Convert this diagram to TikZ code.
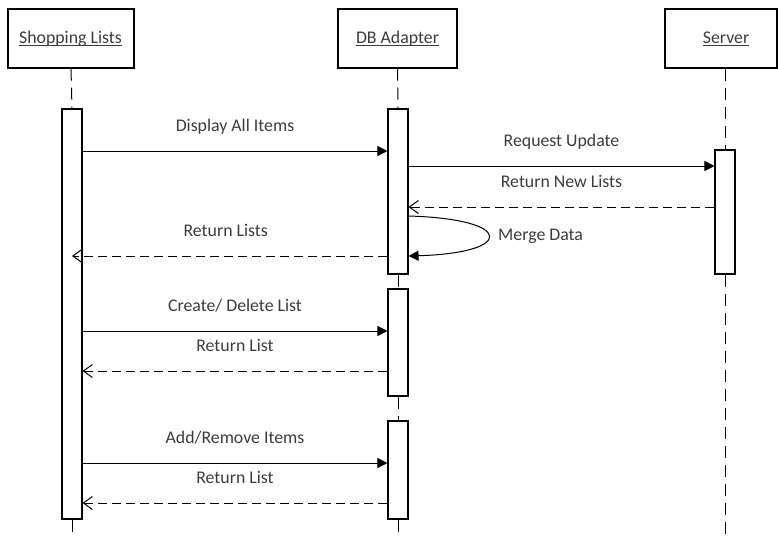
\documentclass[tikz,border=0pt]{standalone}
\usepackage{fontspec}
\setmainfont{Carlito}
\usetikzlibrary{arrows.meta,calc}
\definecolor{labelgray}{RGB}{60,60,60}
% underline drawn just under the baseline, crossing the descenders
\newcommand{\ulbase}[1]{\setbox0\hbox{#1}\rlap{\rule[-2.2pt]{\wd0}{0.9pt}}\box0}
\tikzset{
  objbox/.style={draw=black, line width=1.2pt, minimum width=#1, minimum height=59pt, inner sep=0pt},
  lbl/.style={font=\fontsize{17.8}{20}\selectfont, text=labelgray, inner sep=0pt, anchor=base},
  bar/.style={draw=black, line width=1.1pt, fill=white, minimum width=20pt, inner sep=0pt},
  lifeline/.style={draw=black, line width=1pt, dash pattern=on 12pt off 7pt},
  call/.style={draw=black, line width=1pt, -{Triangle[length=10pt,width=10pt]}},
  reply/.style={draw=black, line width=1pt, dash pattern=on 9pt off 5pt, -{Straight Barb[length=9pt,width=13pt]}},
  msg/.style={lbl, yshift=19.5pt},
}
\begin{document}
\begin{tikzpicture}[x=1pt, y=-1pt]
  \useasboundingbox (0,0) rectangle (778,536);

  % objects
  \node[objbox=126pt] (shop) at (71,38.5) {};
  \node[objbox=119pt] (db) at (397.5,38.5) {};
  \node[objbox=112pt] (srv) at (721,38.5) {};
  \node[lbl] (shoplbl) at (70.5,43.3) {\ulbase{Shopping Lists}};
  \node[lbl] (dblbl) at (397.5,43.3) {\ulbase{DB Adapter}};
  \node[lbl] (srvlbl) at (726,43.3) {\ulbase{Server}};

  % activation bars
  \node[bar, minimum height=410pt] (shopbar) at (72,314) {};
  \node[bar, minimum height=165pt] (dbA) at (398,191.5) {};
  \node[bar, minimum height=107pt] (dbB) at (398,342.5) {};
  \node[bar, minimum height=98pt]  (dbC) at (398,470) {};
  \node[bar, minimum height=124pt] (srvbar) at (725,212) {};

  % lifeline ends
  \coordinate (shopend) at (72,536);
  \coordinate (dbend) at (398,536);
  \coordinate (srvend) at (725,536);

  % lifelines
  \path[lifeline] (shop.south) -- (shopbar.north);
  \path[lifeline] (shopbar.south) -- (shopend);
  \path[lifeline] (db.south) -- (dbA.north);
  \path[lifeline] (dbA.south) -- (dbB.north);
  \path[lifeline] (dbB.south) -- (dbC.north);
  \path[lifeline] (dbC.south) -- (dbend);
  \path[lifeline] (srv.south -| srvbar.north) -- (srvbar.north);
  \path[lifeline] (srvbar.south) -- (srvend);

  % Display All Items
  \path[call] (shopbar.east |- 0,151) -- node[msg] {Display All Items} (dbA.west |- 0,151);
  % Request Update
  \path[call] (dbA.east |- 0,166) -- node[msg] {Request Update} (srvbar.west |- 0,166);
  % Return New Lists
  \path[reply] (srvbar.west |- 0,207) -- node[msg] {Return New Lists} (dbA.east |- 0,207);
  % Merge Data (self call)
  \path[call] (dbA.east |- 0,216) .. controls (515,219) and (515,253) .. (dbA.east |- 0,256);
  \node[lbl, anchor=base west] (merge) at (498,240) {Merge Data};
  % Return Lists
  \path[reply] (dbA.west |- 0,256) -- node[msg, xshift=-4pt] {Return Lists} (shopbar.center |- 0,256);
  % Create/ Delete List
  \path[call] (shopbar.east |- 0,331) -- node[msg] {Create/ Delete List} (dbB.west |- 0,331);
  % Return List
  \path[reply] (dbB.west |- 0,371) -- node[msg] {Return List} (shopbar.east |- 0,371);
  % Add/Remove Items
  \path[call] (shopbar.east |- 0,463) -- node[msg] {Add/Remove Items} (dbC.west |- 0,463);
  % Return List
  \path[reply] (dbC.west |- 0,503) -- node[msg] {Return List} (shopbar.east |- 0,503);
\end{tikzpicture}
\end{document}
